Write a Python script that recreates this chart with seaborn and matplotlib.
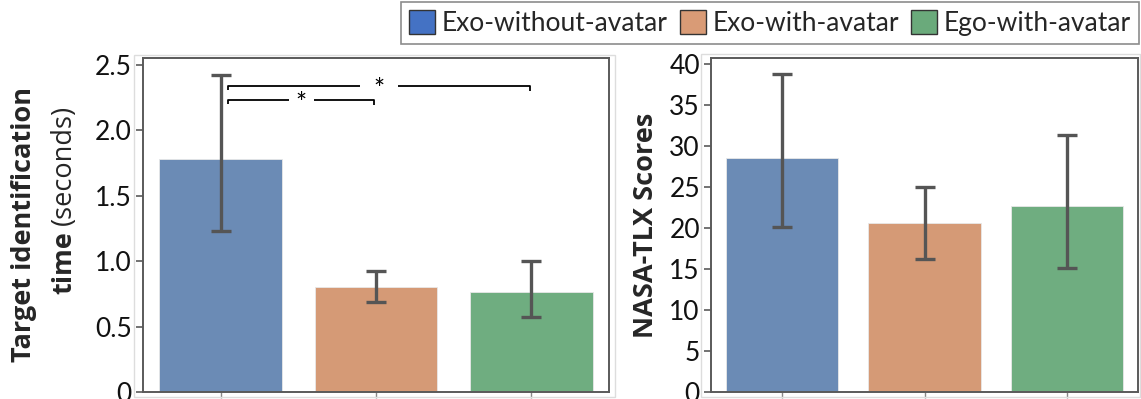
import matplotlib
matplotlib.use("Agg")
import matplotlib.pyplot as plt
import seaborn as sns
import pandas as pd
from matplotlib.patches import Patch, Rectangle

# ---------------- data ----------------
conditions = ["Exo-without-avatar", "Exo-with-avatar", "Ego-with-avatar"]
time_mean = [1.78, 0.80, 0.76]
time_lo = [1.23, 0.69, 0.57]
time_hi = [2.42, 0.92, 1.00]
tlx_mean = [28.5, 20.6, 22.7]
tlx_lo = [20.1, 16.2, 15.1]
tlx_hi = [38.8, 25.0, 31.3]
time_ticks = [0, 0.5, 1.0, 1.5, 2.0, 2.5]
time_ticklabels = ["0", "0.5", "1.0", "1.5", "2.0", "2.5"]
tlx_ticks = [0, 5, 10, 15, 20, 25, 30, 35, 40]
tlx_ticklabels = ["0", "5", "10", "15", "20", "25", "30", "35", "40"]
bar_colors = ["#6B8BB5", "#D59A76", "#6FAD80"]
legend_colors = ["#4472C4", "#D99B76", "#6AAA7B"]
# significance brackets: (from, to, y, label)
sig_brackets = [(0, 2, 2.335, "*"), (0, 1, 2.23, "*")]

W, H = 1141, 399
fig = plt.figure(figsize=(W / 100, H / 100), dpi=100)
sns.set_style("white")
plt.rcParams["font.family"] = ["Lato", "DejaVu Sans"]


def fx(px):
    return px / W


def fy(py):
    return 1 - py / H


# light outer frames
fig.add_artist(Rectangle((fx(134), fy(397)), fx(615 - 134), (397 - 55) / H,
                         transform=fig.transFigure, fill=False, ec="#dddddd", lw=1))
fig.add_artist(Rectangle((fx(701), fy(397)), fx(1140 - 701), (397 - 54) / H,
                         transform=fig.transFigure, fill=False, ec="#dddddd", lw=1))

axL = fig.add_axes([fx(143), fy(392), fx(609 - 143), (392 - 58) / H])
axR = fig.add_axes([fx(711), fy(392), fx(1138 - 711), (392 - 58) / H])

df_time = pd.DataFrame({"cond": conditions, "val": time_mean})
df_tlx = pd.DataFrame({"cond": conditions, "val": tlx_mean})
pal = dict(zip(conditions, bar_colors))

for ax, df, lo, hi, ticks, tlabels, ymax in [
    (axL, df_time, time_lo, time_hi, time_ticks, time_ticklabels, 2.55),
    (axR, df_tlx, tlx_lo, tlx_hi, tlx_ticks, tlx_ticklabels, 40.75),
]:
    sns.barplot(data=df, x="cond", y="val", hue="cond", palette=pal, order=conditions,
                hue_order=conditions, errorbar=None, width=0.79, saturation=1,
                legend=False, ax=ax, edgecolor="#e8e8e8", linewidth=0.6)
    xs = list(range(len(conditions)))
    means = df["val"].tolist()
    ax.errorbar(xs, means,
                yerr=[[m - l for m, l in zip(means, lo)], [h - m for m, h in zip(means, hi)]],
                fmt="none", ecolor="#555555", elinewidth=2.4, capsize=7, capthick=2.4, zorder=5)
    ax.set_xlim(-0.5, 2.5)
    ax.set_ylim(0, ymax)
    ax.set_yticks(ticks)
    ax.set_yticklabels(tlabels, fontsize=19, color="#111111")
    ax.set_xticks(xs)
    ax.set_xticklabels([])
    ax.set_xlabel("")
    ax.set_ylabel("")
    for s in ax.spines.values():
        s.set_visible(True)
        s.set_color("#5a5a5a")
        s.set_linewidth(1.4)
    ax.tick_params(axis="y", left=True, direction="out", length=5, width=1.2,
                   color="#5a5a5a", pad=3)
    ax.tick_params(axis="x", bottom=True, direction="out", length=4, width=1.0,
                   color="#888888")

# significance brackets
for a, b, y, lab in sig_brackets:
    x0 = a + 0.05
    x1 = b - 0.01
    mid = (x0 + x1) / 2
    gap = 0.12 if (b - a) > 1 else 0.08
    axL.plot([x0, x0, mid - gap], [y - 0.03, y, y], color="black", lw=1.3,
             solid_capstyle="butt", clip_on=False)
    axL.plot([mid + gap, x1, x1], [y, y, y - 0.04], color="black", lw=1.3,
             solid_capstyle="butt", clip_on=False)
    axL.text(mid, y - 0.035, lab, ha="center", va="center", fontsize=19, color="black")

# y labels
lab_font = ["Open Sans", "DejaVu Sans"]
lab_size = 19.5
fig.text(fx(31), fy(224), "Target identification", rotation=90, rotation_mode="anchor",
         ha="center", va="baseline", fontsize=lab_size, fontweight="bold", family=lab_font)
t_time = fig.text(fx(71), fy(294), "time", rotation=90, rotation_mode="anchor",
                  ha="left", va="baseline", fontsize=lab_size, fontweight="bold",
                  family=lab_font)
fig.canvas.draw()
bb = t_time.get_window_extent(renderer=fig.canvas.get_renderer())
t_sec_y = (bb.y1 + 6) / fig.bbox.height
fig.text(fx(71), t_sec_y, "(seconds)", rotation=90, rotation_mode="anchor",
         ha="left", va="baseline", fontsize=lab_size, fontweight="normal", family=lab_font)
fig.text(fx(653), fy(225), "NASA-TLX Scores", rotation=90, rotation_mode="anchor",
         ha="center", va="baseline", fontsize=lab_size, fontweight="bold", family=lab_font)

# legend
handles = [Patch(facecolor=c, edgecolor="#333333", linewidth=1.0) for c in legend_colors]
leg = fig.legend(handles, conditions, loc="upper right", ncol=3,
                 bbox_to_anchor=(fx(1139), fy(2)), frameon=True, fancybox=False,
                 edgecolor="#707070", fontsize=19, handlelength=1.0, handleheight=1.0,
                 handletextpad=0.25, columnspacing=0.45, borderpad=0.3, borderaxespad=0)
leg.get_frame().set_linewidth(1.2)

fig.savefig("out.png", dpi=100)
